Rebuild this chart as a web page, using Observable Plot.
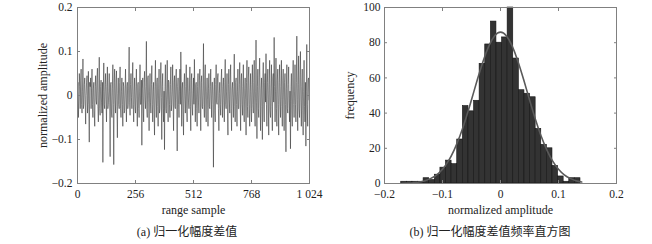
<!DOCTYPE html>
<html>
<head>
<meta charset="utf-8">
<script src="https://cdn.jsdelivr.net/npm/d3@7"></script>
<script src="https://cdn.jsdelivr.net/npm/@observablehq/plot@0.6"></script>
<style>
  html, body { margin: 0; padding: 0; background: #fff; }
  #wrap { position: relative; width: 652px; height: 244px; overflow: hidden; font-family: "Liberation Serif", "Noto Sans CJK SC", serif; color: #222; }
  .panel { position: absolute; top: 0; }
  .cap { position: absolute; top: 222px; font-size: 12px; white-space: nowrap; transform: translateX(-50%); font-family: "Liberation Serif", "Noto Sans CJK SC", serif; }
</style>
</head>
<body>
<div id="wrap"></div>
<script>
// ---- Panel (a): normalized amplitude difference, one value every 2 range samples ----
const sampleStep = 2;
const amplitude = [
  0.01,0.03, -0.05,-0.01, 0.05,0.02, -0.03,0.035, 0.06,-0.02, -0.04,0.01, 0.083,-0.03, -0.02,0.025, 0.04,-0.01, -0.065,0.0, 0.03,0.045, -0.04,-0.015, 0.055,-0.02, -0.106,0.03, 0.02,0.04, -0.03,0.015,
  0.06,-0.02, -0.05,0.015, 0.03,-0.035, -0.07,0.02, 0.045,-0.01, -0.02,0.04, 0.062,-0.025, -0.06,0.01, 0.087,-0.03, -0.045,0.02, 0.035,-0.015, -0.04,0.03, -0.152,0.01, 0.074,-0.02, -0.03,0.025, 0.05,-0.01,
  -0.06,0.02, 0.065,-0.03, -0.02,0.01, 0.05,-0.015, -0.139,0.025, 0.03,-0.04, -0.05,0.015, 0.07,-0.02, -0.157,0.03, 0.06,-0.01, -0.04,0.035, 0.056,-0.025, -0.096,0.005, 0.04,-0.02, -0.03,0.03, 0.065,-0.03,
  -0.05,0.01, 0.04,-0.02, -0.07,0.03, 0.02,-0.04, -0.035,0.015, 0.06,-0.01, -0.06,0.02, 0.03,-0.03, -0.02,0.04, 0.11,-0.015, -0.045,0.025, 0.05,-0.005, -0.03,0.035, 0.075,-0.02, -0.06,0.01, 0.04,-0.025,
  -0.04,0.02, 0.06,-0.01, -0.07,0.025, 0.03,-0.03, -0.05,0.01, 0.07,-0.02, -0.02,0.035, -0.113,0.015, 0.04,-0.02, -0.06,0.03, 0.055,-0.01, -0.03,0.02, 0.123,-0.03, -0.05,0.04, 0.045,-0.015, -0.08,0.01,
  0.05,-0.015, -0.04,0.025, 0.068,-0.02, -0.06,0.01, 0.03,-0.035, -0.09,0.02, 0.08,-0.01, -0.05,0.03, 0.04,-0.025, -0.07,0.015, 0.06,-0.04, -0.03,0.035, 0.075,-0.005, -0.1,0.02, 0.05,-0.03, -0.06,0.01,
  -0.123,0.02, 0.07,-0.03, -0.04,0.015, 0.08,-0.01, -0.06,0.035, 0.03,-0.02, -0.05,0.025, 0.065,-0.035, -0.02,0.01, 0.07,-0.015, -0.08,0.03, 0.045,-0.025, -0.03,0.04, 0.06,-0.01, -0.126,0.02, 0.04,-0.02,
  -0.05,0.01, 0.06,-0.02, 0.099,0.03, -0.07,0.015, 0.03,-0.035, -0.09,0.025, 0.05,-0.01, -0.04,0.02, 0.07,-0.03, -0.06,0.04, 0.04,-0.015, -0.03,0.01, 0.065,-0.025, -0.08,0.035, 0.05,-0.02, -0.045,0.005,
  0.04,-0.02, 0.082,0.01, -0.06,0.025, 0.03,-0.03, -0.07,0.02, 0.05,-0.015, -0.04,0.035, 0.06,-0.01, -0.08,0.03, 0.045,-0.025, -0.03,0.015, 0.118,-0.02, -0.05,0.04, 0.07,-0.035, -0.06,0.01, 0.04,-0.01,
  -0.07,0.015, 0.05,-0.025, -0.03,0.02, 0.06,-0.01, -0.05,0.03, 0.03,-0.02, -0.163,0.01, 0.04,-0.035, -0.06,0.025, 0.07,-0.015, -0.02,0.04, 0.05,-0.03, -0.08,0.005, 0.03,-0.02, -0.045,0.035, 0.06,-0.01,
  -0.05,0.02, 0.04,-0.015, -0.06,0.03, 0.082,-0.02, -0.03,0.01, 0.05,-0.04, -0.09,0.025, 0.06,-0.01, -0.04,0.035, 0.07,-0.03, -0.08,0.015, 0.03,-0.005, -0.05,0.02, 0.094,-0.025, -0.06,0.03, 0.04,-0.02,
  -0.07,0.01, 0.06,-0.03, -0.03,0.025, 0.075,-0.015, -0.08,0.035, 0.05,-0.02, -0.045,0.02, 0.07,-0.04, -0.06,0.015, 0.04,-0.01, -0.09,0.03, 0.08,-0.025, -0.05,0.04, 0.065,-0.02, -0.07,0.01, 0.05,-0.03,
  -0.06,0.025, 0.07,-0.02, -0.04,0.03, 0.08,-0.035, -0.07,0.01, 0.126,-0.015, -0.098,0.02, 0.06,-0.03, -0.05,0.04, 0.085,-0.01, -0.08,0.015, 0.04,-0.025, -0.1,0.035, 0.075,-0.02, -0.06,0.03, 0.05,-0.015,
  0.095,-0.02, -0.07,0.03, 0.06,-0.01, -0.09,0.025, 0.08,-0.035, -0.05,0.015, 0.07,-0.025, -0.08,0.04, 0.05,-0.015, 0.132,0.02, -0.06,0.01, 0.085,-0.03, -0.07,0.035, 0.06,-0.02, -0.09,0.03, 0.07,-0.01,
  -0.05,0.02, 0.08,-0.025, -0.07,0.035, 0.06,-0.01, -0.08,0.03, 0.05,-0.02, -0.128,0.015, 0.07,-0.03, -0.04,0.025, 0.065,-0.015, -0.06,0.01, -0.121,0.02, 0.05,-0.035, -0.07,0.04, 0.08,-0.02, -0.05,0.01,
  0.07,-0.02, -0.06,0.03, 0.135,-0.01, -0.08,0.025, 0.09,-0.03, -0.05,0.04, 0.1,-0.015, -0.07,0.02, 0.06,-0.035, -0.09,0.01, 0.08,-0.025, -0.06,0.03, -0.115,0.01, 0.116,-0.02, -0.07,0.035, 0.04,-0.01
];
const xTicksA = [0, 256, 512, 768, 1024];
const xTickLabelsA = ["0", "256", "512", "768", "1 024"];
const yTicksA = [-0.2, -0.1, 0, 0.1, 0.2];
const yTickLabelsA = ["\u22120.2", "\u22120.1", "0", "0.1", "0.2"];

// ---- Panel (b): histogram of normalized amplitude difference ----
const binEdges = [
  -0.1712, -0.1615, -0.1519, -0.1422, -0.1326, -0.1229, -0.1132, -0.1036, -0.0939, -0.0843,
  -0.0746, -0.0649, -0.0553, -0.0456, -0.0360, -0.0263, -0.0166, -0.0070, 0.0027, 0.0123,
  0.0220, 0.0317, 0.0413, 0.0510, 0.0606, 0.0703, 0.0800, 0.0896, 0.0993, 0.1089,
  0.1186, 0.1283, 0.1379
];
const counts = [1, 1, 1, 1, 3, 2, 5, 9, 13, 11, 25, 44, 41, 47, 68, 79, 92, 80, 83, 100, 71, 53, 51, 49, 31, 22, 20, 10, 4, 1, 3, 3];
const fitX = [-0.17, -0.16, -0.15, -0.14, -0.13, -0.12, -0.11, -0.10, -0.09, -0.08, -0.07, -0.06, -0.05, -0.04, -0.03, -0.02, -0.01, 0,
  0.01, 0.02, 0.03, 0.04, 0.05, 0.06, 0.07, 0.08, 0.09, 0.10, 0.11, 0.12, 0.13, 0.14];
const fitY = [0.1, 0.2, 0.42, 0.84, 1.6, 2.9, 4.9, 8.1, 12.7, 19.0, 27.0, 36.7, 47.6, 58.9, 69.5, 78.2, 84.0, 86,
  84.0, 78.2, 69.5, 58.9, 47.6, 36.7, 27.0, 19.0, 12.7, 8.1, 4.9, 2.9, 1.6, 0.84];
const xTicksB = [-0.2, -0.1, 0, 0.1, 0.2];
const xTickLabelsB = ["\u22120.2", "\u22120.1", "0", "0.1", "0.2"];
const yTicksB = [0, 20, 40, 60, 80, 100];

const FONT = "Liberation Serif";
const frameColor = "#808080";
const textColor = "#222";

function fmt(ticks, labels) {
  return d => { const i = ticks.findIndex(t => Math.abs(t - d) < 1e-9); return i >= 0 ? labels[i] : ""; };
}
function boxTicks(xt, yt) {
  const blank = () => "";
  return [
    Plot.axisX(xt, {anchor: "bottom", tickSize: 3, dy: -3, tickFormat: blank, stroke: frameColor, label: null}),
    Plot.axisX(xt, {anchor: "top", tickSize: 3, dy: 3, tickFormat: blank, stroke: frameColor, label: null}),
    Plot.axisY(yt, {anchor: "left", tickSize: 3, dx: 3, tickFormat: blank, stroke: frameColor, label: null}),
    Plot.axisY(yt, {anchor: "right", tickSize: 3, dx: -3, tickFormat: blank, stroke: frameColor, label: null})
  ];
}

const seriesA = amplitude.map((v, i) => ({sample: i * sampleStep, value: v}));

const plotA = Plot.plot({
  width: 326, height: 218,
  marginLeft: 77, marginRight: 17, marginTop: 7, marginBottom: 35,
  style: {fontFamily: FONT, fontSize: "11.5px", color: textColor, background: "transparent"},
  x: {domain: [0, 1024], label: null},
  y: {domain: [-0.2, 0.2], label: null},
  marks: [
    Plot.line(seriesA, {x: "sample", y: "value", stroke: "#2e2e2e", strokeWidth: 0.55}),
    Plot.frame({stroke: frameColor}),
    ...boxTicks(xTicksA, yTicksA),
    Plot.axisX(xTicksA, {anchor: "bottom", tickSize: 0, tickPadding: 6, tickFormat: fmt(xTicksA, xTickLabelsA), label: null}),
    Plot.axisY(yTicksA, {anchor: "left", tickSize: 0, tickPadding: 5, tickFormat: fmt(yTicksA, yTickLabelsA), label: null}),
    Plot.text(["range sample"], {frameAnchor: "bottom", dy: 27, lineAnchor: "middle", fontSize: 12, fill: textColor}),
    Plot.text(["normalized amplitude"], {frameAnchor: "left", dx: -34, rotate: -90, textAnchor: "middle", lineAnchor: "middle", fontSize: 12, fill: textColor})
  ]
});

const bars = counts.map((c, i) => ({x1: binEdges[i], x2: binEdges[i + 1], n: c}));
const fit = fitX.map((x, i) => ({x, y: fitY[i]}));

const plotB = Plot.plot({
  width: 326, height: 218,
  marginLeft: 58, marginRight: 36, marginTop: 7, marginBottom: 35,
  style: {fontFamily: FONT, fontSize: "11.5px", color: textColor, background: "transparent"},
  x: {domain: [-0.2, 0.2], label: null},
  y: {domain: [0, 100], label: null},
  marks: [
    Plot.rectY(bars, {x1: "x1", x2: "x2", y: "n", fill: "#333333", stroke: "#141414", strokeWidth: 0.6}),
    Plot.line(fit, {x: "x", y: "y", curve: "natural", stroke: "#5a5a5a", strokeWidth: 1.6}),
    Plot.frame({stroke: frameColor}),
    ...boxTicks(xTicksB, yTicksB),
    Plot.axisX(xTicksB, {anchor: "bottom", tickSize: 0, tickPadding: 6, tickFormat: fmt(xTicksB, xTickLabelsB), label: null}),
    Plot.axisY(yTicksB, {anchor: "left", tickSize: 0, tickPadding: 4, tickFormat: d => String(d), label: null}),
    Plot.text(["normalized amplitude"], {frameAnchor: "bottom", dy: 27, lineAnchor: "middle", fontSize: 12, fill: textColor}),
    Plot.text(["frequency"], {frameAnchor: "left", dx: -34, rotate: -90, textAnchor: "middle", lineAnchor: "middle", fontSize: 12, fill: textColor})
  ]
});

const wrap = document.getElementById("wrap");
plotA.classList.add("panel"); plotA.style.left = "0px";
plotB.classList.add("panel"); plotB.style.left = "326px";
wrap.appendChild(plotA);
wrap.appendChild(plotB);

const captions = [["(a) 归一化幅度差值", 187], ["(b) 归一化幅度差值频率直方图", 490]];
for (const [t, cx] of captions) {
  const d = document.createElement("div");
  d.className = "cap";
  d.textContent = t;
  d.style.left = cx + "px";
  wrap.appendChild(d);
}
</script>
</body>
</html>
